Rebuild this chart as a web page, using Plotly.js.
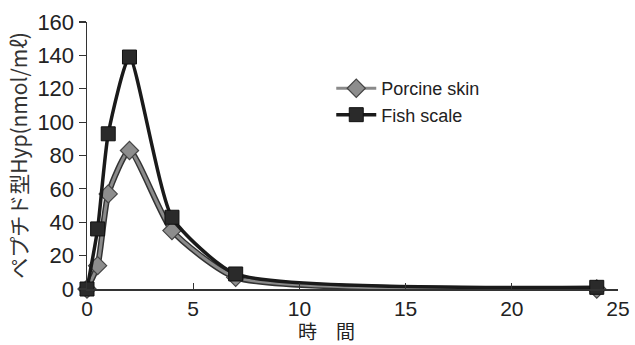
<!DOCTYPE html>
<html><head><meta charset="utf-8">
<script src="https://cdn.plot.ly/plotly-3.0.1.min.js"></script>
<style>html,body{margin:0;padding:0;background:#fff}</style>
</head><body><div id="chart" style="width:635px;height:345px"></div>
<script>
const hours = [0, 0.5, 1, 2, 4, 7, 24];
const porcineSkin = [0, 14, 57, 83, 35, 7, 0];
const fishScale = [0, 36, 93, 139, 43, 9, 1];
const seriesNames = ["Porcine skin", "Fish scale"];
const xTicks = [0, 5, 10, 15, 20, 25];
const yTicks = [0, 20, 40, 60, 80, 100, 120, 140, 160];
const xTitle = "時　間";
const yTitle = "ペプチド型Hyp(nmol/mℓ)";

const font = "Liberation Sans, Arial, sans-serif";
const sm = 0.55;
const traces = [
  {x: hours, y: porcineSkin, mode: "lines", line: {color: "#333", width: 6, shape: "spline", smoothing: sm}, showlegend: false, hoverinfo: "skip", cliponaxis: false},
  {x: hours, y: porcineSkin, name: seriesNames[0], mode: "lines+markers", line: {color: "#8a8a8a", width: 3, shape: "spline", smoothing: sm},
   marker: {symbol: "diamond", size: 14, color: "#8d8d8d", line: {color: "#444", width: 1.2}}, cliponaxis: false},
  {x: hours, y: fishScale, name: seriesNames[1], mode: "lines+markers", line: {color: "#1a1a1a", width: 3.5, shape: "spline", smoothing: sm},
   marker: {symbol: "square", size: 14, color: "#2a2a2a", line: {color: "#111", width: 1}}, cliponaxis: false}
];
const layout = {
  width: 635, height: 345,
  margin: {l: 87, r: 17, t: 22, b: 56},
  paper_bgcolor: "#fff", plot_bgcolor: "#fff",
  font: {family: font, color: "#222"},
  showlegend: true,
  legend: {x: 0.46, y: 0.82, xanchor: "left", yanchor: "top", font: {size: 18, family: font, color: "#222"}, bgcolor: "rgba(0,0,0,0)", tracegroupgap: 0, itemwidth: 40},
  xaxis: {range: [0, 25], tickvals: xTicks, ticktext: xTicks.map(String), ticks: "inside", ticklen: 6, tickwidth: 1.2, tickcolor: "#333",
    showline: true, linecolor: "#333", linewidth: 1.5, showgrid: false, zeroline: false,
    tickfont: {size: 21, family: font, color: "#222"}},
  yaxis: {range: [0, 160], tickvals: yTicks, ticktext: yTicks.map(String), ticks: "outside", ticklen: 7, tickwidth: 1.2, tickcolor: "#333",
    showline: true, linecolor: "#333", linewidth: 1.5, showgrid: false, zeroline: false,
    tickfont: {size: 22, family: font, color: "#222"},
    title: {text: yTitle, font: {size: 21, family: "Noto Sans CJK JP, sans-serif", color: "#333"}, standoff: 4}},
  annotations: [
    {text: xTitle, xref: "paper", yref: "paper", x: (326-87)/531, y: -0.215, xanchor: "center", yanchor: "bottom", showarrow: false,
     font: {size: 19, family: "Noto Sans CJK JP, sans-serif", color: "#222"}}
  ]
};
Plotly.newPlot("chart", traces, layout, {displayModeBar: false, staticPlot: true});
</script></body></html>
